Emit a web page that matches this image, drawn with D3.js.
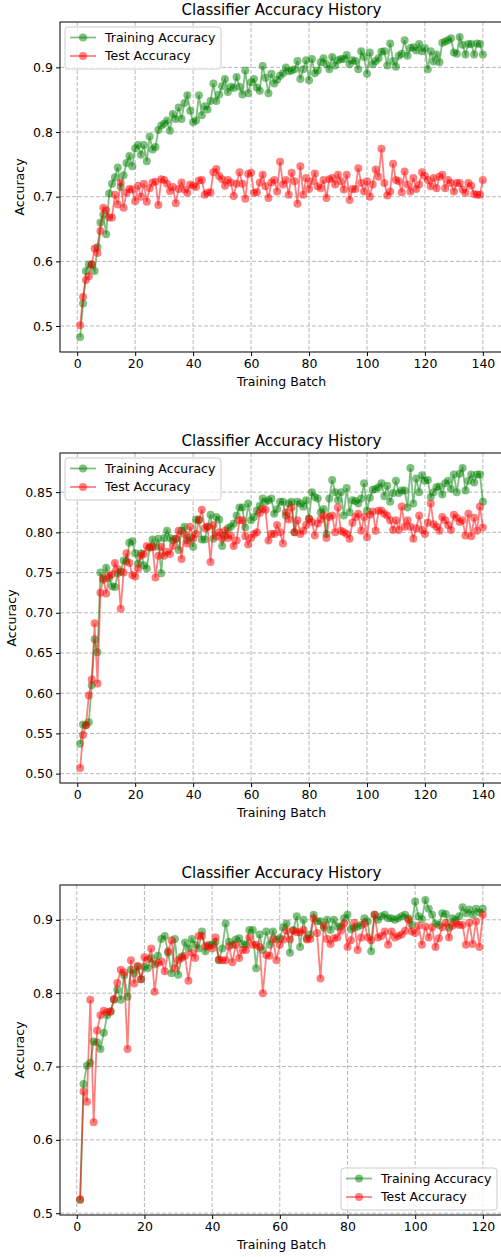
<!DOCTYPE html>
<html>
<head>
<meta charset="utf-8">
<script src="https://cdn.jsdelivr.net/npm/d3@7"></script>
<style>
  body { margin: 0; background: #fff; }
  svg { display: block; font-family: "DejaVu Sans", sans-serif; }
</style>
</head>
<body>
<svg id="chart" width="501" height="1257"></svg>
<script>
// accuracy per training batch, batch number = position in array + 1

// run 1
const train1 = [
  0.483, 0.535, 0.585, 0.595, 0.595, 0.585, 0.622, 0.660, 0.672, 0.642,
  0.705, 0.720, 0.730, 0.745, 0.715, 0.733, 0.752, 0.763, 0.747, 0.775,
  0.780, 0.765, 0.780, 0.755, 0.793, 0.773, 0.777, 0.803, 0.810, 0.813,
  0.818, 0.802, 0.828, 0.820, 0.838, 0.820, 0.845, 0.857, 0.833, 0.815,
  0.818, 0.857, 0.826, 0.840, 0.835, 0.848, 0.875, 0.848, 0.858, 0.871,
  0.882, 0.862, 0.870, 0.868, 0.885, 0.870, 0.858, 0.895, 0.860, 0.877,
  0.882, 0.869, 0.864, 0.902, 0.884, 0.860, 0.890, 0.875, 0.881, 0.887,
  0.891, 0.900, 0.894, 0.895, 0.897, 0.910, 0.882, 0.897, 0.911, 0.880,
  0.913, 0.891, 0.895, 0.908, 0.914, 0.905, 0.897, 0.916, 0.903, 0.911,
  0.913, 0.913, 0.919, 0.905, 0.911, 0.910, 0.897, 0.925, 0.916, 0.890,
  0.923, 0.905, 0.910, 0.914, 0.924, 0.925, 0.903, 0.937, 0.910, 0.901,
  0.918, 0.921, 0.942, 0.918, 0.930, 0.931, 0.926, 0.936, 0.925, 0.930,
  0.897, 0.925, 0.909, 0.920, 0.908, 0.938, 0.940, 0.942, 0.945, 0.923,
  0.921, 0.947, 0.935, 0.920, 0.936, 0.936, 0.920, 0.937, 0.936, 0.920
];
const test1 = [
  0.501, 0.545, 0.571, 0.577, 0.595, 0.620, 0.613, 0.647, 0.683, 0.679,
  0.668, 0.668, 0.703, 0.688, 0.722, 0.683, 0.706, 0.712, 0.711, 0.693,
  0.717, 0.700, 0.720, 0.692, 0.713, 0.722, 0.723, 0.687, 0.727, 0.726,
  0.720, 0.709, 0.715, 0.690, 0.712, 0.722, 0.711, 0.706, 0.719, 0.717,
  0.715, 0.725, 0.726, 0.703, 0.706, 0.707, 0.738, 0.743, 0.732, 0.727,
  0.717, 0.726, 0.722, 0.701, 0.720, 0.738, 0.720, 0.697, 0.735, 0.737,
  0.706, 0.707, 0.722, 0.734, 0.716, 0.698, 0.722, 0.726, 0.708, 0.754,
  0.719, 0.726, 0.703, 0.737, 0.724, 0.689, 0.747, 0.703, 0.729, 0.712,
  0.724, 0.736, 0.716, 0.713, 0.726, 0.698, 0.727, 0.729, 0.719, 0.734,
  0.724, 0.711, 0.734, 0.695, 0.712, 0.712, 0.744, 0.721, 0.708, 0.724,
  0.700, 0.719, 0.742, 0.731, 0.774, 0.721, 0.702, 0.708, 0.751, 0.726,
  0.724, 0.707, 0.739, 0.719, 0.708, 0.729, 0.712, 0.719, 0.738, 0.732,
  0.726, 0.716, 0.729, 0.713, 0.731, 0.734, 0.713, 0.726, 0.721, 0.708,
  0.721, 0.721, 0.711, 0.706, 0.721, 0.717, 0.704, 0.703, 0.703, 0.726
];

// run 2
const train2 = [
  0.537, 0.561, 0.560, 0.564, 0.610, 0.667, 0.651, 0.750, 0.741, 0.756,
  0.743, 0.733, 0.732, 0.749, 0.751, 0.765, 0.764, 0.787, 0.789, 0.774,
  0.761, 0.774, 0.759, 0.755, 0.781, 0.791, 0.782, 0.792, 0.749, 0.793,
  0.802, 0.793, 0.790, 0.792, 0.778, 0.802, 0.807, 0.790, 0.794, 0.782,
  0.816, 0.816, 0.791, 0.791, 0.807, 0.822, 0.792, 0.819, 0.816, 0.783,
  0.796, 0.805, 0.807, 0.811, 0.821, 0.831, 0.831, 0.806, 0.836, 0.815,
  0.819, 0.827, 0.833, 0.842, 0.838, 0.840, 0.842, 0.823, 0.829, 0.838,
  0.838, 0.821, 0.836, 0.838, 0.800, 0.838, 0.836, 0.832, 0.840, 0.817,
  0.850, 0.844, 0.842, 0.825, 0.829, 0.798, 0.842, 0.865, 0.850, 0.840,
  0.850, 0.821, 0.855, 0.825, 0.840, 0.839, 0.836, 0.842, 0.861, 0.827,
  0.843, 0.853, 0.854, 0.856, 0.861, 0.845, 0.858, 0.838, 0.849, 0.864,
  0.849, 0.852, 0.852, 0.831, 0.880, 0.836, 0.867, 0.850, 0.871, 0.864,
  0.865, 0.844, 0.850, 0.856, 0.857, 0.847, 0.861, 0.864, 0.854, 0.872,
  0.850, 0.873, 0.880, 0.852, 0.864, 0.872, 0.862, 0.872, 0.872, 0.838
];
const test2 = [
  0.507, 0.548, 0.560, 0.597, 0.617, 0.687, 0.612, 0.725, 0.743, 0.724,
  0.746, 0.748, 0.762, 0.754, 0.705, 0.750, 0.774, 0.762, 0.747, 0.745,
  0.755, 0.771, 0.773, 0.783, 0.781, 0.782, 0.744, 0.771, 0.782, 0.771,
  0.776, 0.773, 0.783, 0.792, 0.802, 0.767, 0.798, 0.786, 0.807, 0.792,
  0.798, 0.815, 0.828, 0.805, 0.807, 0.763, 0.809, 0.795, 0.800, 0.792,
  0.802, 0.793, 0.796, 0.783, 0.790, 0.815, 0.815, 0.795, 0.785, 0.793,
  0.798, 0.800, 0.824, 0.829, 0.828, 0.790, 0.798, 0.798, 0.809, 0.800,
  0.786, 0.825, 0.816, 0.831, 0.800, 0.815, 0.798, 0.802, 0.809, 0.817,
  0.813, 0.796, 0.811, 0.816, 0.821, 0.793, 0.819, 0.821, 0.800, 0.831,
  0.802, 0.800, 0.798, 0.792, 0.812, 0.819, 0.823, 0.802, 0.819, 0.794,
  0.822, 0.826, 0.802, 0.827, 0.827, 0.823, 0.821, 0.815, 0.803, 0.815,
  0.803, 0.832, 0.807, 0.815, 0.807, 0.792, 0.805, 0.821, 0.803, 0.798,
  0.812, 0.836, 0.810, 0.807, 0.802, 0.819, 0.815, 0.809, 0.803, 0.822,
  0.818, 0.813, 0.815, 0.796, 0.823, 0.795, 0.818, 0.802, 0.832, 0.806
];

// run 3
const train3 = [
  0.518, 0.676, 0.701, 0.705, 0.734, 0.733, 0.724, 0.746, 0.770, 0.775,
  0.791, 0.805, 0.791, 0.824, 0.795, 0.832, 0.827, 0.836, 0.819, 0.836,
  0.834, 0.848, 0.839, 0.851, 0.874, 0.878, 0.855, 0.827, 0.874, 0.825,
  0.850, 0.869, 0.861, 0.874, 0.866, 0.861, 0.884, 0.857, 0.866, 0.866,
  0.870, 0.845, 0.861, 0.895, 0.870, 0.866, 0.873, 0.875, 0.867, 0.866,
  0.886, 0.886, 0.834, 0.880, 0.859, 0.884, 0.866, 0.884, 0.873, 0.875,
  0.890, 0.895, 0.855, 0.886, 0.905, 0.863, 0.900, 0.875, 0.880, 0.907,
  0.898, 0.898, 0.889, 0.900, 0.886, 0.900, 0.891, 0.891, 0.902, 0.907,
  0.887, 0.889, 0.891, 0.893, 0.902, 0.898, 0.857, 0.907, 0.900, 0.905,
  0.907, 0.902, 0.902, 0.900, 0.902, 0.905, 0.907, 0.902, 0.893, 0.925,
  0.905, 0.901, 0.927, 0.915, 0.907, 0.895, 0.893, 0.909, 0.908, 0.889,
  0.902, 0.900, 0.905, 0.917, 0.909, 0.914, 0.907, 0.915, 0.910, 0.915
];
const test3 = [
  0.519, 0.666, 0.652, 0.791, 0.624, 0.749, 0.770, 0.776, 0.774, 0.775,
  0.792, 0.814, 0.832, 0.828, 0.724, 0.845, 0.813, 0.837, 0.819, 0.849,
  0.846, 0.861, 0.802, 0.841, 0.843, 0.830, 0.857, 0.872, 0.834, 0.845,
  0.848, 0.851, 0.817, 0.855, 0.848, 0.878, 0.878, 0.864, 0.864, 0.861,
  0.876, 0.846, 0.845, 0.845, 0.864, 0.842, 0.866, 0.848, 0.859, 0.859,
  0.876, 0.866, 0.866, 0.863, 0.800, 0.852, 0.851, 0.874, 0.845, 0.866,
  0.873, 0.885, 0.873, 0.885, 0.883, 0.883, 0.886, 0.873, 0.874, 0.902,
  0.882, 0.820, 0.892, 0.874, 0.867, 0.875, 0.876, 0.885, 0.895, 0.863,
  0.872, 0.896, 0.859, 0.876, 0.895, 0.876, 0.872, 0.907, 0.876, 0.878,
  0.884, 0.866, 0.884, 0.876, 0.878, 0.880, 0.885, 0.900, 0.884, 0.882,
  0.892, 0.866, 0.891, 0.876, 0.890, 0.863, 0.875, 0.890, 0.896, 0.876,
  0.892, 0.895, 0.893, 0.893, 0.866, 0.896, 0.867, 0.898, 0.863, 0.907
];

// tick labels
const xTicks1 = [0, 20, 40, 60, 80, 100, 120, 140];
const xTicks3 = [0, 20, 40, 60, 80, 100, 120];
const yTicks1 = [0.5, 0.6, 0.7, 0.8, 0.9];
const yTicks2 = [0.50, 0.55, 0.60, 0.65, 0.70, 0.75, 0.80, 0.85];
const yTicks3 = [0.5, 0.6, 0.7, 0.8, 0.9];

const seriesNames = ['Training Accuracy', 'Test Accuracy'];
const seriesColors = ['#008000', '#ff0000'];

const panels = [
  { series: [train1, test1], xTicks: xTicks1, yTicks: yTicks1, fmt: '.1f', top: 22, legend: 'upper left', ylabelX: 20 },
  { series: [train2, test2], xTicks: xTicks1, yTicks: yTicks2, fmt: '.2f', top: 453, legend: 'upper left', ylabelX: 12 },
  { series: [train3, test3], xTicks: xTicks3, yTicks: yTicks3, fmt: '.1f', top: 885, legend: 'lower right', ylabelX: 20 }
];

const svg = d3.select('#chart');
const left = 60, right = 503, plotH = 330;

panels.forEach(drawPanel);

function drawPanel(p) {
  const bottom = p.top + plotH;
  const n = p.series[0].length;
  // matplotlib-style 5% autoscale margins
  const xPad = 0.05 * (n - 1);
  const all = p.series.flat();
  const yMin = d3.min(all), yMax = d3.max(all);
  const yPad = 0.05 * (yMax - yMin);

  const x = d3.scaleLinear().domain([1 - xPad, n + xPad]).range([left, right]);
  const y = d3.scaleLinear().domain([yMin - yPad, yMax + yPad]).range([bottom, p.top]);

  const g = svg.append('g');

  // grid
  g.append('g')
    .selectAll('line')
    .data(p.xTicks)
    .join('line')
    .attr('x1', d => x(d)).attr('x2', d => x(d))
    .attr('y1', p.top).attr('y2', bottom)
    .attr('stroke', '#b8b8b8').attr('stroke-width', 1).attr('stroke-dasharray', '4,2');
  g.append('g')
    .selectAll('line')
    .data(p.yTicks)
    .join('line')
    .attr('x1', left).attr('x2', right)
    .attr('y1', d => y(d)).attr('y2', d => y(d))
    .attr('stroke', '#b8b8b8').attr('stroke-width', 1).attr('stroke-dasharray', '4,2');

  // series
  const line = d3.line().x((d, i) => x(i + 1)).y(d => y(d));
  p.series.forEach((vals, k) => {
    const s = g.append('g');
    s.append('path')
      .datum(vals)
      .attr('d', line)
      .attr('fill', 'none')
      .attr('stroke', seriesColors[k])
      .attr('stroke-opacity', 0.5)
      .attr('stroke-width', 1.8);
    s.selectAll('circle')
      .data(vals)
      .join('circle')
      .attr('cx', (d, i) => x(i + 1))
      .attr('cy', d => y(d))
      .attr('r', 4)
      .attr('fill', seriesColors[k])
      .attr('fill-opacity', 0.5);
  });

  // axes
  const xAxis = d3.axisBottom(x).tickValues(p.xTicks).tickSize(4).tickPadding(3).tickFormat(d3.format('d'));
  const yAxis = d3.axisLeft(y).tickValues(p.yTicks).tickSize(4).tickPadding(3).tickFormat(d3.format(p.fmt));
  const gx = g.append('g').attr('transform', `translate(0,${bottom})`).call(xAxis);
  const gy = g.append('g').attr('transform', `translate(${left},0)`).call(yAxis);
  [gx, gy].forEach(a => {
    a.select('.domain').remove();
    a.selectAll('text').attr('font-size', 12.5).attr('fill', '#000')
      .attr('font-family', '"DejaVu Sans", sans-serif');
    a.selectAll('line').attr('stroke', '#000');
  });

  // frame
  g.append('rect')
    .attr('x', left).attr('y', p.top)
    .attr('width', right - left).attr('height', plotH)
    .attr('fill', 'none').attr('stroke', '#000').attr('stroke-width', 1);

  // title and labels
  const cx = (left + right) / 2;
  g.append('text')
    .attr('x', cx).attr('y', p.top - 7.5)
    .attr('text-anchor', 'middle').attr('font-size', 15)
    .text('Classifier Accuracy History');
  g.append('text')
    .attr('x', cx).attr('y', bottom + 34)
    .attr('text-anchor', 'middle').attr('font-size', 12.5)
    .text('Training Batch');
  g.append('text')
    .attr('transform', `translate(${p.ylabelX},${p.top + plotH / 2}) rotate(-90)`)
    .attr('text-anchor', 'middle').attr('dominant-baseline', 'middle').attr('font-size', 12.5)
    .text('Accuracy');

  // legend
  const lw = 156, lh = 42;
  const lx = p.legend === 'upper left' ? left + 5 : right - 6 - lw;
  const ly = p.legend === 'upper left' ? p.top + 5 : bottom - 5 - lh;
  const leg = g.append('g').attr('transform', `translate(${lx},${ly})`);
  leg.append('rect')
    .attr('width', lw).attr('height', lh).attr('rx', 3)
    .attr('fill', '#fff').attr('fill-opacity', 0.8)
    .attr('stroke', '#cccccc').attr('stroke-width', 1);
  const rows = leg.selectAll('g')
    .data(seriesNames)
    .join('g')
    .attr('transform', (d, i) => `translate(0,${10.5 + i * 18.5})`);
  rows.append('line')
    .attr('x1', 5).attr('x2', 31)
    .attr('stroke', (d, i) => seriesColors[i]).attr('stroke-opacity', 0.5).attr('stroke-width', 1.8);
  rows.append('circle')
    .attr('cx', 18).attr('r', 4)
    .attr('fill', (d, i) => seriesColors[i]).attr('fill-opacity', 0.5);
  rows.append('text')
    .attr('x', 40).attr('dy', '0.35em').attr('font-size', 12.5)
    .text(d => d);
}
</script>
</body>
</html>
